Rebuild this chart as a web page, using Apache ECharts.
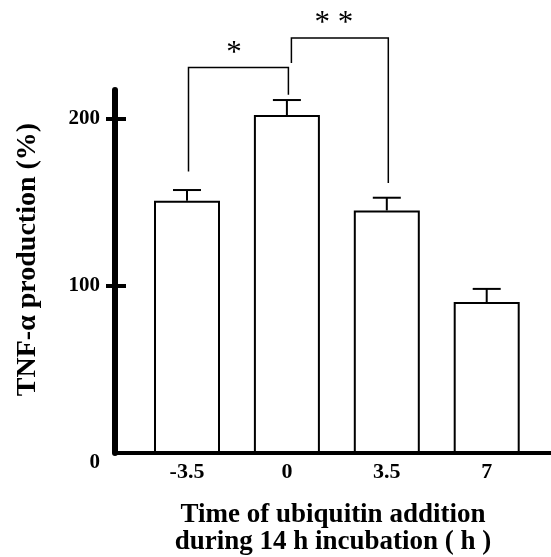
<!DOCTYPE html>
<html>
<head>
<meta charset="utf-8">
<script src="https://cdn.jsdelivr.net/npm/echarts@6/dist/echarts.min.js"></script>
<style>
html,body{margin:0;padding:0;background:#fff;}
#chart{width:551px;height:557px;}
</style>
</head>
<body>
<div id="chart"></div>
<script>
// ---- data ----
const categories = ['-3.5', '0', '3.5', '7'];
const values = [150.8, 202.0, 145.0, 90.2];
const errors = [6.4, 9.0, 7.6, 7.9];
const yTickValues = [0, 100, 200];
// significance brackets: [fromIndex, toIndex, leftLegBottom, top, rightLegBottom]
const brackets = [
  [0, 1, 168.3, 230.5, 214.2],
  [1, 2, 233.1, 248.1, 161.4]
];
const bracketLabels = ['*', '* *'];
const yTitle = 'TNF-\u03b1 production (%)';
const xTitle = 'Time of ubiquitin addition\nduring 14 h incubation ( h )';

const FONT = 'Liberation Serif';
const chart = echarts.init(document.getElementById('chart'), null, {renderer: 'canvas'});

const option = {
  backgroundColor: '#fff',
  animation: false,
  grid: {left: 115, right: 0, top: 90, bottom: 104, containLabel: false, outerBoundsMode: 'none'},
  xAxis: {
    type: 'value',
    min: -0.7207,
    max: 3.6436,
    splitLine: {show: false},
    axisTick: {show: false},
    axisLine: {show: true, onZero: false, lineStyle: {color: '#000', width: 4}},
    axisLabel: {
      customValues: [0, 1, 2, 3],
      formatter: v => categories[Math.round(v)],
      color: '#000', fontFamily: FONT, fontWeight: 'bold', fontSize: 22, margin: 8
    },
    name: xTitle,
    nameLocation: 'middle',
    nameGap: 49,
    nameTextStyle: {color: '#000', fontFamily: FONT, fontWeight: 'bold', fontSize: 27, lineHeight: 27, align: 'center'}
  },
  yAxis: [{
    type: 'value',
    min: 0,
    max: 217,
    position: 'left',
    splitLine: {show: false},
    axisLine: {show: true, onZero: false, lineStyle: {color: '#000', width: 6}},
    axisTick: {show: true, inside: true, length: 11, customValues: [100, 200], lineStyle: {color: '#000', width: 4}},
    axisLabel: {
      customValues: yTickValues,
      formatter: v => v === 0 ? '{z|0}' : '{a|' + v + '}',
      margin: 15,
      rich: {
        a: {color: '#000', fontFamily: FONT, fontWeight: 'bold', fontSize: 21},
        z: {color: '#000', fontFamily: FONT, fontWeight: 'bold', fontSize: 21, padding: [19, 0, 0, 0]}
      }
    }
  }, {
    type: 'value',
    min: 0,
    max: 217,
    position: 'left',
    splitLine: {show: false},
    axisLine: {show: false, onZero: false},
    axisTick: {show: true, inside: false, length: 9, customValues: [100, 200], lineStyle: {color: '#000', width: 4}},
    axisLabel: {show: false}
  }],
  graphic: [{
    type: 'text',
    x: 28, y: 259.5,
    rotation: Math.PI / 2,
    style: {
      text: yTitle, fill: '#000', font: 'bold 28px "Liberation Serif"',
      align: 'center', verticalAlign: 'middle'
    }
  }],
  series: [{
    type: 'bar',
    data: values.map((v, i) => [i, v]),
    barWidth: 66,
    itemStyle: {color: '#fff', borderColor: '#000', borderWidth: 2},
    z: 2
  }, {
    type: 'custom',
    data: values.map((v, i) => [i, v, v + errors[i]]),
    encode: {x: 0, y: [1, 2]},
    z: 3,
    renderItem: function (params, api) {
      const i = api.value(0);
      const p0 = api.coord([i, api.value(1)]);
      const p1 = api.coord([i, api.value(2)]);
      const hw = 14;
      return {
        type: 'group',
        children: [
          {type: 'line', shape: {x1: p0[0], y1: p0[1], x2: p1[0], y2: p1[1]}, style: {stroke: '#000', lineWidth: 2}},
          {type: 'line', shape: {x1: p1[0] - hw, y1: p1[1], x2: p1[0] + hw, y2: p1[1]}, style: {stroke: '#000', lineWidth: 2}}
        ]
      };
    }
  }, {
    type: 'custom',
    data: brackets,
    encode: {x: [0, 1], y: [2, 3, 4]},
    clip: false,
    z: 3,
    renderItem: function (params, api) {
      const k = params.dataIndex;
      const a = api.value(0), b = api.value(1);
      const lb = api.coord([a, api.value(2)]);
      const lt = api.coord([a, api.value(3)]);
      const rt = api.coord([b, api.value(3)]);
      const rb = api.coord([b, api.value(4)]);
      const sl = k > 0 ? 4.5 : 1.5, sr = 1.5;
      const pts = [[lb[0] + sl, lb[1]], [lt[0] + sl, lt[1]], [rt[0] + sr, rt[1]], [rb[0] + sr, rb[1]]];
      const mx = (lt[0] + rt[0]) / 2 - 3;
      return {
        type: 'group',
        children: [
          {type: 'polyline', shape: {points: pts}, style: {stroke: '#000', lineWidth: 1.5, fill: null}},
          {type: 'text', x: mx, y: lt[1] - 14, style: {text: bracketLabels[k], fill: '#000', font: '31px "Liberation Serif"', align: 'center', verticalAlign: 'middle'}}
        ]
      };
    }
  }]
};
chart.setOption(option);
</script>
</body>
</html>
